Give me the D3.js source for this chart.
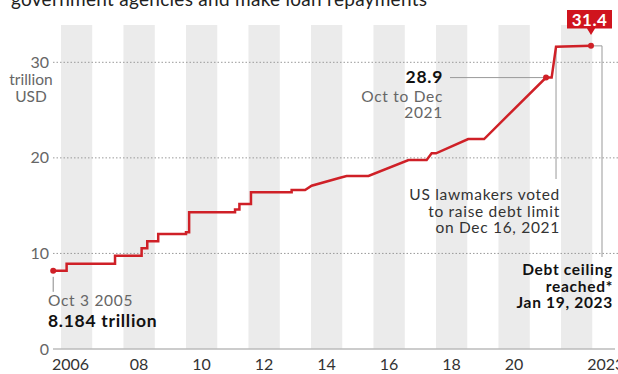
<!DOCTYPE html>
<html>
<head>
<meta charset="utf-8">
<script src="https://cdn.jsdelivr.net/npm/d3@7"></script>
<style>
  body { margin: 0; background: #fff; }
  svg { display: block; font-family: Lato, "Open Sans", sans-serif; }
</style>
</head>
<body>
<script>
// debt level, trillion USD (fractional years)
var years  = [2005.75, 2006.18, 2006.18, 2007.73, 2007.73, 2008.58, 2008.58, 2008.76, 2008.76,
              2009.11, 2009.11, 2010.0, 2010.0, 2010.10, 2010.10, 2011.57, 2011.57, 2011.71, 2011.71,
              2012.08, 2012.08, 2013.38, 2013.38, 2013.81, 2014.02, 2014.93, 2015.14, 2015.84,
              2017.12, 2017.70, 2017.86, 2018.0, 2019.03, 2019.54, 2021.52, 2021.70, 2021.84, 2022.96];
var debt   = [8.18, 8.18, 8.93, 8.93, 9.76, 9.76, 10.54, 10.54, 11.27,
              11.27, 12.03, 12.03, 12.21, 12.21, 14.3, 14.3, 14.6, 14.6, 15.17,
              15.17, 16.4, 16.4, 16.64, 16.64, 17.09, 17.92, 18.1, 18.1,
              19.78, 19.78, 20.48, 20.48, 21.97, 21.97, 28.4, 28.4, 31.63, 31.72];
var yTicks = [0, 10, 20, 30];
var bandYears = [2006, 2008, 2010, 2012, 2014, 2016, 2018, 2020, 2022];
var xTickYears = [2006, 2008, 2010, 2012, 2014, 2016, 2018, 2020, 2022];
var xTickLabels = ["2006", "08", "10", "12", "14", "16", "18", "20", "2023"];

var W = 618, H = 374;
var red = "#cf2027";

function toDate(y) {
  var yr = Math.floor(y);
  var start = new Date(yr, 0, 1), end = new Date(yr + 1, 0, 1);
  return new Date(+start + (y - yr) * (end - start));
}

var svg = d3.select("body").append("svg")
  .attr("width", W)
  .attr("height", H);

var x = d3.scaleTime()
  .domain([new Date(2006, 0, 1), new Date(2023, 0, 1)])
  .range([61, 592.25]);
var y = d3.scaleLinear()
  .domain([0, 30])
  .range([349, 62.3]);

// title remnant at the top
svg.append("text")
  .attr("x", 11).attr("y", 6)
  .attr("font-size", 19)
  .attr("fill", "#222")
  .attr("textLength", 416)
  .text("government agencies and make loan repayments");

// alternating year bands
svg.append("g").selectAll("rect")
  .data(bandYears)
  .enter().append("rect")
  .attr("x", function(d){ return x(new Date(d, 0, 1)); })
  .attr("width", function(d){ return x(new Date(d + 1, 0, 1)) - x(new Date(d, 0, 1)); })
  .attr("y", 25)
  .attr("height", y(0) - 25)
  .attr("fill", "#ebebeb");

// gridlines
svg.append("g").selectAll("line")
  .data(yTicks.filter(function(d){ return d > 0; }))
  .enter().append("line")
  .attr("x1", 53).attr("x2", W)
  .attr("y1", function(d){ return y(d); })
  .attr("y2", function(d){ return y(d); })
  .attr("stroke", "#999")
  .attr("stroke-width", 1)
  .attr("stroke-dasharray", "1.5,2");

svg.append("line")
  .attr("x1", 53).attr("x2", 615)
  .attr("y1", y(0)).attr("y2", y(0))
  .attr("stroke", "#bbb")
  .attr("stroke-width", 1.5);

// y labels
svg.append("g").selectAll("text")
  .data(yTicks)
  .enter().append("text")
  .attr("x", 49)
  .attr("y", function(d){ return y(d) + 5.5; })
  .attr("text-anchor", "end")
  .attr("font-size", 16)
  .attr("fill", "#666")
  .text(function(d){ return d; });

svg.append("text")
  .attr("text-anchor", "middle")
  .attr("font-size", 15.5)
  .attr("fill", "#666")
  .selectAll("tspan")
  .data(["trillion", "USD"])
  .enter().append("tspan")
  .attr("x", 31)
  .attr("y", function(d, i){ return 85 + i * 17; })
  .text(function(d){ return d; });

// x labels
svg.append("g").selectAll("text")
  .data(xTickYears)
  .enter().append("text")
  .attr("x", function(d, i){
    var cx = x(new Date(d, 6, 1));
    if (i === 0) cx -= 6;
    if (i === xTickYears.length - 1) cx = x(new Date(2023, 6, 1)) - 2;
    return cx;
  })
  .attr("y", 370)
  .attr("text-anchor", "middle")
  .attr("font-size", 16)
  .attr("fill", "#333")
  .text(function(d, i){ return xTickLabels[i]; });

// annotation connectors
var pts = years.map(function(d, i){ return { date: toDate(d), v: debt[i] }; });
var first = pts[0], mid = pts[34], last = pts[pts.length - 1], vote = pts[36];

svg.append("line")
  .attr("x1", x(first.date)).attr("x2", x(first.date))
  .attr("y1", y(first.v) + 6).attr("y2", y(first.v) + 21)
  .attr("stroke", "#888");

svg.append("line")
  .attr("x1", 450).attr("x2", x(mid.date))
  .attr("y1", y(mid.v)).attr("y2", y(mid.v))
  .attr("stroke", "#999");

svg.append("line")
  .attr("x1", x(vote.date)).attr("x2", x(vote.date))
  .attr("y1", y(vote.v)).attr("y2", 179)
  .attr("stroke", "#999");

svg.append("path")
  .attr("d", "M" + x(last.date) + "," + y(last.v) + "H602V257")
  .attr("fill", "none")
  .attr("stroke", "#999");

// debt line
var line = d3.line()
  .x(function(d){ return x(d.date); })
  .y(function(d){ return y(d.v); });

svg.append("path")
  .datum(pts)
  .attr("d", line)
  .attr("fill", "none")
  .attr("stroke", red)
  .attr("stroke-width", 2.5)
  .attr("stroke-linejoin", "miter");

svg.append("g").selectAll("circle")
  .data([first, mid, last])
  .enter().append("circle")
  .attr("cx", function(d){ return x(d.date); })
  .attr("cy", function(d){ return y(d.v); })
  .attr("r", 3)
  .attr("fill", red);

// 31.4 callout
var bx = x(last.date);
svg.append("path")
  .attr("d", "M567,10H612V28.5H" + (bx + 4) + "L" + bx + ",35L" + (bx - 4) + ",28.5H567Z")
  .attr("fill", "#d0141e");
svg.append("text")
  .attr("x", 589.5).attr("y", 25.5)
  .attr("text-anchor", "middle")
  .attr("font-size", 17)
  .attr("font-weight", "bold")
  .attr("letter-spacing", 0.5)
  .attr("fill", "#fff")
  .text("31.4");

// text annotations
function block(lines, xx, y0, lh, anchor, size, weight, color) {
  var t = svg.append("text")
    .attr("text-anchor", anchor)
    .attr("font-size", size)
    .attr("font-weight", weight)
    .attr("letter-spacing", 0.7)
    .attr("fill", color);
  t.selectAll("tspan").data(lines).enter().append("tspan")
    .attr("x", xx)
    .attr("y", function(d, i){ return y0 + i * lh; })
    .text(function(d){ return d; });
}

block(["28.9"], 443, 83, 0, "end", 17.5, "bold", "#111");
block(["Oct to Dec", "2021"], 443, 101.5, 16.5, "end", 15.5, "normal", "#666");
block(["US lawmakers voted", "to raise debt limit", "on Dec 16, 2021"], 560, 200, 16.5, "end", 15.5, "normal", "#333");
block(["Debt ceiling", "reached*", "Jan 19, 2023"], 613, 275, 16.5, "end", 15.5, "bold", "#111");
block(["Oct 3 2005"], 48, 306, 0, "start", 15.5, "normal", "#666");
block(["8.184 trillion"], 48, 326.5, 0, "start", 17.5, "bold", "#111");
</script>
</body>
</html>
